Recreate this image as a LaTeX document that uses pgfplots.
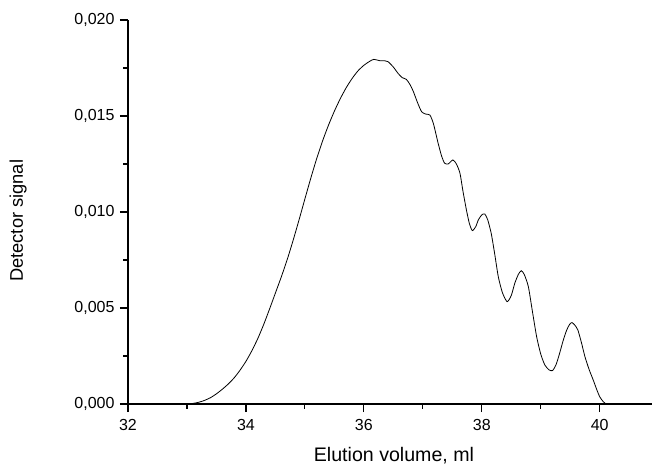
\documentclass[border=0pt]{standalone}
\usepackage{pgfplots}
\pgfplotsset{compat=1.18}
\usepackage{fontspec}
\setmainfont{Liberation Sans}
\begin{document}
\begin{tikzpicture}
\begin{axis}[
  name=ax,
  scale only axis,
  width=524pt, height=384pt,
  xmin=32, xmax=40.887,
  ymin=0, ymax=0.020,
  axis x line=bottom, axis y line=left,
  axis line style={-, line width=1.2pt},
  xtick={32,34,36,38,40},
  ytick={0,0.005,0.010,0.015,0.020},
  minor x tick num=1, minor y tick num=1,
  tick align=outside,
  major tick length=8pt, minor tick length=4.5pt,
  every tick/.style={black, line width=1.2pt},
  scaled y ticks=false,
  /pgf/number format/assume math mode=true,
  yticklabel style={/pgf/number format/.cd, fixed, fixed zerofill, precision=3, use comma, /tikz/xshift=-2pt},
  xticklabel style={/pgf/number format/.cd, fixed, precision=0, /tikz/yshift=-4pt},
  tick label style={font=\fontsize{16}{18}\selectfont},
  xlabel={Elution volume, ml},
  ylabel={Detector signal},
  xlabel style={font=\fontsize{19.6}{22}\selectfont, at={(axis description cs:0.5076,0)}, anchor=base, inner sep=0pt, yshift=-57pt},
  ylabel style={font=\fontsize{18.3}{22}\selectfont, at={(axis description cs:0,0.477)}, anchor=south, inner sep=0pt, yshift=101pt},
  clip=false,
]
\addplot[black, line width=0.8pt, smooth, tension=0.4] coordinates {
(33.00,0.00000) (33.10,0.00003) (33.20,0.00009) (33.30,0.00019) (33.40,0.00033)
(33.50,0.00053) (33.60,0.00077) (33.70,0.00104) (33.80,0.00136) (33.90,0.00176)
(34.00,0.00222) (34.10,0.00277) (34.20,0.00340) (34.30,0.00413) (34.40,0.00494)
(34.50,0.00578) (34.60,0.00662) (34.70,0.00752) (34.80,0.00852) (34.90,0.00958)
(35.00,0.01068) (35.10,0.01176) (35.20,0.01278) (35.30,0.01370) (35.40,0.01452)
(35.50,0.01525) (35.60,0.01590) (35.70,0.01647) (35.80,0.01695) (35.90,0.01735)
(36.00,0.01764) (36.10,0.01785) (36.17,0.01795) (36.27,0.01788) (36.35,0.01788)
(36.41,0.01783) (36.50,0.01755) (36.58,0.01722) (36.65,0.01700) (36.72,0.01691)
(36.78,0.01665) (36.84,0.01627) (36.91,0.01570) (36.98,0.01522) (37.05,0.01510)
(37.12,0.01505) (37.18,0.01460) (37.26,0.01358) (37.32,0.01290) (37.37,0.01254)
(37.43,0.01250) (37.51,0.01271) (37.57,0.01250) (37.63,0.01202) (37.68,0.01110)
(37.74,0.01010) (37.79,0.00940) (37.84,0.00903) (37.90,0.00925) (37.94,0.00958)
(38.00,0.00985) (38.05,0.00990) (38.10,0.00960) (38.16,0.00889) (38.22,0.00780)
(38.28,0.00663) (38.35,0.00580) (38.43,0.00533) (38.50,0.00565) (38.56,0.00629)
(38.62,0.00675) (38.67,0.00694) (38.72,0.00675) (38.79,0.00611) (38.86,0.00480)
(38.93,0.00351) (39.00,0.00260) (39.07,0.00203) (39.14,0.00178) (39.20,0.00174)
(39.26,0.00205) (39.32,0.00264) (39.38,0.00330) (39.44,0.00385) (39.49,0.00415)
(39.53,0.00424) (39.58,0.00410) (39.63,0.00385) (39.69,0.00320) (39.75,0.00246)
(39.82,0.00180) (39.89,0.00125) (39.95,0.00075) (40.00,0.00038) (40.06,0.00012)
(40.11,0.00000)
};
\end{axis}
\path (ax.south west) ++(-128pt,-60pt) coordinate (bbA);
\path (ax.north east) ++(2pt,20pt) coordinate (bbB);
\end{tikzpicture}
\end{document}
